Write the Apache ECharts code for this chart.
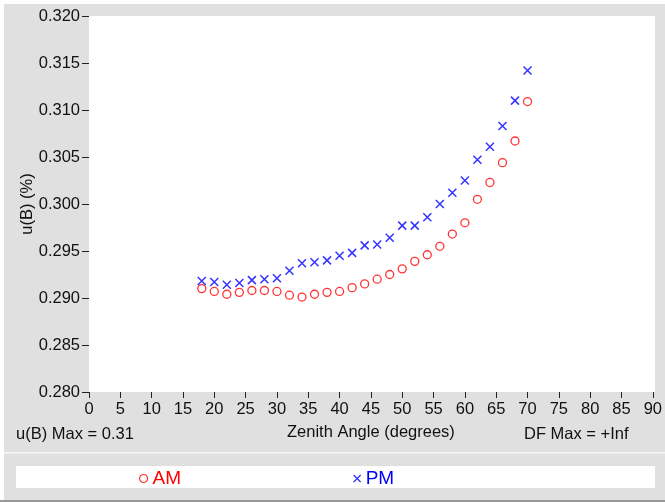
<!DOCTYPE html>
<html><head><meta charset="utf-8">
<script src="https://cdn.jsdelivr.net/npm/echarts@6/dist/echarts.min.js"></script>
<style>html,body{margin:0;padding:0;background:#fff;}#c{width:665px;height:502px;}</style>
</head><body><div id="c"></div>
<script>
const zenith = [18,20,22,24,26,28,30,32,34,36,38,40,42,44,46,48,50,52,54,56,58,60,62,64,66,68,70];
const amValues = [0.2910,0.2907,0.2904,0.2906,0.2908,0.2908,0.2907,0.2903,0.2901,0.2904,0.2906,0.2907,0.2911,0.2915,0.2920,0.2925,0.2931,0.2939,0.2946,0.2955,0.2968,0.2980,0.3005,0.3023,0.3044,0.3067,0.3109];
const pmValues = [0.2918,0.2917,0.2914,0.2916,0.2919,0.2920,0.2921,0.2929,0.2937,0.2938,0.2940,0.2945,0.2948,0.2956,0.2957,0.2964,0.2977,0.2977,0.2986,0.3000,0.3012,0.3025,0.3047,0.3061,0.3083,0.3110,0.3142];
const yTicks = {min:0.280, max:0.320, step:0.005};
const xTicks = {min:0, max:90, step:5};
const seriesNames = ['AM','PM'];
const xTitle = 'Zenith Angle (degrees)';
const yTitle = 'u(B) (%)';
const leftNote = 'u(B) Max = 0.31';
const rightNote = 'DF Max = +Inf';

const crossPath = 'path://M0,0L10,10M10,0L0,10';
const font = 'Liberation Sans, Arial, sans-serif';
const fs = 16.5;
const chart = echarts.init(document.getElementById('c'), null, {renderer:'canvas'});
const pair = (xs, ys) => xs.map((x,i)=>[x, ys[i]]);
chart.setOption({
  animation:false,
  textStyle:{fontFamily:font},
  graphic:[
    {type:'rect', z:-10, shape:{x:4,y:4,width:661,height:498}, style:{fill:'#e0e0e0'}},
    {type:'rect', z:-9, shape:{x:4,y:452,width:661,height:1.5}, style:{fill:'#f6f6f6'}},
    {type:'rect', z:-9, shape:{x:0,y:500,width:665,height:2}, style:{fill:'#999999'}},
    {type:'rect', z:-9, shape:{x:89,y:16,width:566,height:376}, style:{fill:'#ffffff'}},
    {type:'rect', z:-9, shape:{x:16,y:466,width:639,height:22}, style:{fill:'#ffffff'}},
    {type:'text', left:16, top:426, style:{text:leftNote, fontSize:fs, fill:'#111', fontFamily:font}},
    {type:'text', left:524, top:426, style:{text:rightNote, fontSize:fs, fill:'#111', fontFamily:font}}
  ],
  legend:[
    {data:[{name:seriesNames[0], icon:'circle'}], left:134, top:464, itemWidth:8, itemHeight:8, itemGap:0,
     itemStyle:{color:'transparent', borderColor:'#ff0000', borderWidth:1.2},
     textStyle:{fontSize:19, color:'#ff0000', fontFamily:font}},
    {data:[{name:seriesNames[1], icon:crossPath}], left:348, top:464, itemWidth:7, itemHeight:7, itemGap:0,
     itemStyle:{color:'transparent', borderColor:'#0000ff', borderWidth:1.3},
     textStyle:{fontSize:19, color:'#0000ff', fontFamily:font}}
  ],
  grid:{left:89, right:10, top:16, bottom:110, show:false},
  xAxis:{type:'value', min:xTicks.min, max:xTicks.max, interval:xTicks.step,
    name:xTitle, nameLocation:'middle', nameGap:32, nameMoveOverlap:false, nameTextStyle:{fontSize:fs, color:'#111', fontFamily:font},
    axisLine:{show:false}, axisTick:{show:true, length:6, lineStyle:{color:'#222'}},
    axisLabel:{fontSize:fs, color:'#111', margin:9, fontFamily:font}, splitLine:{show:false}},
  yAxis:{type:'value', min:yTicks.min, max:yTicks.max, interval:yTicks.step,
    name:yTitle, nameLocation:'middle', nameGap:53, nameRotate:90, nameMoveOverlap:false, nameTextStyle:{fontSize:fs, color:'#111', fontFamily:font},
    axisLine:{show:false}, axisTick:{show:true, length:7, lineStyle:{color:'#222'}},
    axisLabel:{fontSize:fs, color:'#111', margin:9, fontFamily:font, formatter:v=>v.toFixed(3)}, splitLine:{show:false}},
  series:[
    {name:seriesNames[0], type:'scatter', data:pair(zenith, amValues), symbol:'circle', symbolSize:8,
     itemStyle:{color:'transparent', borderColor:'#ff0000', borderWidth:1.3}},
    {name:seriesNames[1], type:'scatter', data:pair(zenith, pmValues), symbol:crossPath, symbolSize:8,
     itemStyle:{color:'transparent', borderColor:'#0000ff', borderWidth:1.5}}
  ]
});
</script></body></html>
